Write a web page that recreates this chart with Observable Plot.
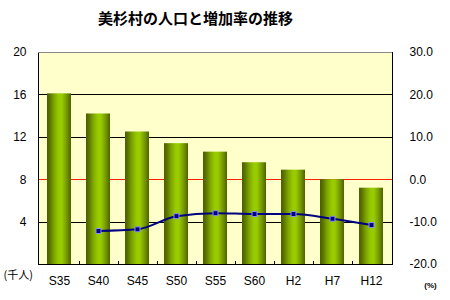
<!DOCTYPE html>
<html><head><meta charset="utf-8">
<script src="https://cdn.jsdelivr.net/npm/d3@7"></script>
<script src="https://cdn.jsdelivr.net/npm/@observablehq/plot@0.6"></script>
<style>body{margin:0;background:#fff}</style>
</head><body><div id="chart"></div>
<script>
const title = "美杉村の人口と増加率の推移";
const years = ["S35","S40","S45","S50","S55","S60","H2","H7","H12"];
const population = [16.1,14.2,12.5,11.4,10.6,9.6,8.9,8.0,7.2];
const rateYears = ["S40","S45","S50","S55","S60","H2","H7","H12"];
const growthRate = [-12.1,-11.7,-8.6,-7.9,-8.1,-8.1,-9.2,-10.7];
const leftTicks = [4,8,12,16,20];
const rightTicks = [30,20,10,0,-10,-20];
const leftUnit = "(千人)";
const rightUnit = "(%)";

const toLeft = r => (r + 20) * 0.4;
const fromLeft = v => v / 0.4 - 20;
const bars = years.map((y,i)=>({year:y, pop:population[i]}));
const rates = rateYears.map((y,i)=>({year:y, v:toLeft(growthRate[i])}));
const font = "Liberation Sans, Arial, sans-serif";

const plot = Plot.plot({
  width:450, height:300,
  marginLeft:38, marginRight:58, marginTop:52, marginBottom:36,
  style:{fontFamily:font, fontSize:"12px", background:"#fff", color:"#000"},
  x:{domain:years, paddingInner:0.39, paddingOuter:0.195, label:null},
  y:{domain:[0,20], label:null},
  marks:[
    Plot.frame({fill:"#ffffcc"}),
    Plot.ruleY([4,12,16], {stroke:"#000", strokeWidth:1, shapeRendering:"crispEdges"}),
    Plot.ruleY([8], {stroke:"#ff2200", strokeWidth:1, shapeRendering:"crispEdges"}),
    Plot.barY(bars, {x:"year", y:"pop", fill:"url(#barGrad)"}),
    Plot.ruleX(years.slice(0,-1), {x:d=>d, dx:19.65, y1:0, y2:0.28, stroke:"#000", shapeRendering:"crispEdges"}),
    Plot.line(rates, {x:"year", y:"v", stroke:"#000080", strokeWidth:2, curve:"monotone-x"}),
    Plot.dot(rates, {x:"year", y:"v", symbol:"square", r:2.8, fill:"#000080", stroke:"#8c8cff", strokeWidth:1}),
    Plot.frame({stroke:"#000", shapeRendering:"crispEdges"}),
    Plot.ruleY([20], {stroke:"#888", shapeRendering:"crispEdges"}),
    Plot.axisY(leftTicks, {anchor:"left", tickSize:0, tickPadding:12, fontSize:12, label:null}),
    Plot.axisY(rightTicks.map(toLeft), {anchor:"right", tickSize:0, tickPadding:17, textAnchor:"start", fontSize:12, label:null, tickFormat:v=>fromLeft(v).toFixed(1)}),
    Plot.axisX({tickSize:0, tickPadding:12, fontSize:12, label:null}),
    Plot.text([title], {frameAnchor:"top", dx:-20, dy:-33, lineAnchor:"middle", fontSize:15, fontWeight:"bold", fontFamily:"Noto Sans CJK JP", letterSpacing:1.5}),
    Plot.text([leftUnit], {frameAnchor:"bottom-left", dx:-35, dy:11, textAnchor:"start", lineAnchor:"middle", fontSize:11, fontFamily:"Noto Sans CJK JP"}),
    Plot.text([rightUnit], {frameAnchor:"bottom-right", dx:38, dy:21, textAnchor:"middle", lineAnchor:"middle", fontSize:8, fontWeight:"bold"})
  ]
});
const svg = d3.select(plot);
const defs = svg.insert("defs", ":first-child");
const g = defs.append("linearGradient").attr("id","barGrad").attr("x1","0%").attr("x2","100%").attr("y1","0%").attr("y2","0%");
[[0,"#4a5e00"],[0.12,"#5a7400"],[0.3,"#7fa600"],[0.5,"#99cc00"],[0.62,"#99cc00"],[0.8,"#7a9e00"],[1,"#4d6400"]]
  .forEach(([o,c])=>g.append("stop").attr("offset",o).attr("stop-color",c));
document.getElementById("chart").appendChild(plot);
</script>
</body></html>
